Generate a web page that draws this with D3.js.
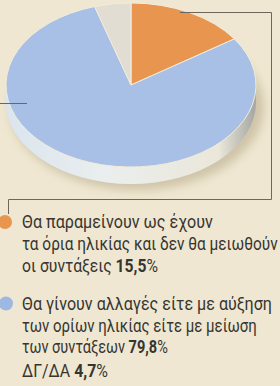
<!DOCTYPE html>
<html><head><meta charset="utf-8">
<script src="https://cdn.jsdelivr.net/npm/d3@7"></script>
<style>
html,body{margin:0;padding:0;background:#efe7d1;}
svg{display:block;}
</style></head>
<body>
<svg id="c" width="280" height="386"></svg>
<script>
// ---- data ----
const categories = ["Θα παραμείνουν", "Θα γίνουν αλλαγές", "ΔΓ/ΔΑ"];
const values = [15.5, 79.8, 4.7];
const valueLabels = ["15,5%", "79,8%", "4,7%"];
const labelLines = [
  ["Θα παραμείνουν ως έχουν", "τα όρια ηλικίας και δεν θα μειωθούν", "οι συντάξεις "],
  ["Θα γίνουν αλλαγές είτε με αύξηση", "των ορίων ηλικίας είτε με μείωση", "των συντάξεων "],
  ["ΔΓ/ΔΑ "]
];
const colors = ["#e8954f", "#a8bfe6", "#e2ddd2"];

// ---- layout ----
const svg = d3.select("#c");
const cx = 131, cy = 85, rx = 125, ry = 82, depth = 17;

const defs = svg.append("defs");
defs.append("filter").attr("id", "blur").attr("x", "-20%").attr("y", "-20%").attr("width", "140%").attr("height", "140%")
  .append("feGaussianBlur").attr("stdDeviation", 5);
const sideGrad = defs.append("linearGradient").attr("id", "side").attr("x1", 0).attr("x2", 1).attr("y1", 0).attr("y2", 0);
sideGrad.append("stop").attr("offset", "0%").attr("stop-color", "#dbe5ef");
sideGrad.append("stop").attr("offset", "40%").attr("stop-color", "#eaeeee");
sideGrad.append("stop").attr("offset", "85%").attr("stop-color", "#ebe7d9");
sideGrad.append("stop").attr("offset", "100%").attr("stop-color", "#a3a6a3");

// shadow
svg.append("ellipse").attr("cx", cx + 6).attr("cy", cy + depth + 5).attr("rx", rx + 2).attr("ry", ry + 1)
  .attr("fill", "#cfc4a9").attr("filter", "url(#blur)");

// side
svg.append("path")
  .attr("d", `M${cx - rx},${cy} A${rx},${ry} 0 0 0 ${cx + rx},${cy} L${cx + rx},${cy + depth} A${rx},${ry} 0 0 1 ${cx - rx},${cy + depth} Z`)
  .attr("fill", "url(#side)");

// top face
const pieData = d3.pie().sort(null).value(d => d)(values);
const arcGen = d3.arc().innerRadius(0).outerRadius(rx);
const face = svg.append("g").attr("transform", `translate(${cx},${cy}) scale(1,${ry / rx})`);
face.selectAll("path").data(pieData).join("path")
  .attr("d", arcGen)
  .attr("fill", (d, i) => colors[i])
  .attr("stroke", "#f3ecdc").attr("stroke-width", 1)
  .attr("vector-effect", "non-scaling-stroke");

// leader lines / frame
const ln = "#6e665a";
svg.append("path").attr("d", "M180,12.5 H271.5 V199.5 H8.5 V214").attr("fill", "none").attr("stroke", ln).attr("stroke-width", 1);
svg.append("path").attr("d", "M0,103.5 H27").attr("fill", "none").attr("stroke", ln).attr("stroke-width", 1);

// legend markers
svg.append("circle").attr("cx", 5).attr("cy", 222).attr("r", 7).attr("fill", colors[0]);
svg.append("circle").attr("cx", 6).attr("cy", 303.5).attr("r", 7).attr("fill", "#9fb7e3");

// legend text
const baselines = [[228, 250, 271.5], [310, 331.5, 353], [377]];
const endX = [[213, 278, 158], [272, 257, 168], [108]];
const x0 = 22;
labelLines.forEach((lines, i) => {
  lines.forEach((t, j) => {
    const txt = svg.append("text")
      .attr("font-family", "Roboto, 'Liberation Sans', sans-serif")
      .attr("font-size", 17.5).attr("fill", "#363530");
    txt.append("tspan").text(t);
    if (j === lines.length - 1) {
      const v = valueLabels[i];
      txt.append("tspan").attr("font-weight", "bold").text(v.slice(0, -1));
      txt.append("tspan").text("%");
    }
    const w = txt.node().getComputedTextLength();
    const sx = (endX[i][j] - x0) / w;
    txt.attr("transform", `translate(${x0},${baselines[i][j]}) scale(${sx},1)`);
  });
});
</script>
</body></html>
